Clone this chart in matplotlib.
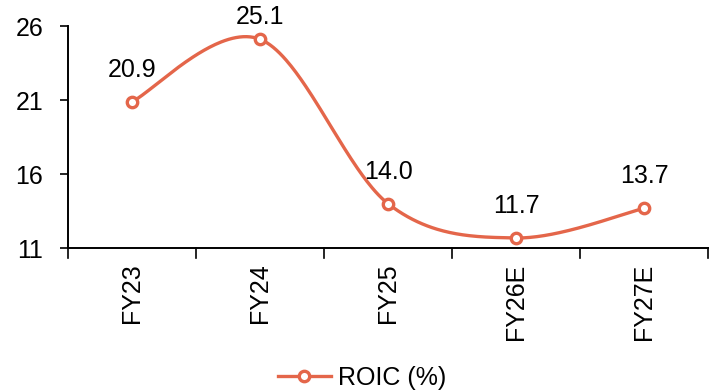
import numpy as np
import matplotlib
matplotlib.use("Agg")
import matplotlib.pyplot as plt
from matplotlib.lines import Line2D

categories = ["FY23", "FY24", "FY25", "FY26E", "FY27E"]
roic = [20.9, 25.1, 14.0, 11.7, 13.7]
yticks = [11, 16, 21, 26]

color = "#E4664A"
FS = 18
plt.rcParams["font.family"] = ["Liberation Sans", "DejaVu Sans"]

W, H = 7.24, 3.9
fig = plt.figure(figsize=(W, H), dpi=100)
axpos = [0.0943, 0.3633, 0.884, 0.570]
ax = fig.add_axes(axpos)

x = np.arange(len(categories))
ax.set_xlim(-0.5, len(categories) - 0.5)
ax.set_ylim(11, 26)

# Excel-like smoothed line (Catmull-Rom Bezier), computed in normalized space
aspect = (axpos[3] * H) / (axpos[2] * W)
xs = (x + 0.5) / len(categories)
ys = (np.array(roic) - 11) / 15 * aspect
pts = np.column_stack([xs, ys])
curve = []
n = len(pts)
for i in range(n - 1):
    p0 = pts[i - 1] if i > 0 else pts[i]
    p1 = pts[i]
    p2 = pts[i + 1]
    p3 = pts[i + 2] if i + 2 < n else pts[i + 1]
    c1 = p1 + (p2 - p0) / 6
    c2 = p2 - (p3 - p1) / 6
    t = np.linspace(0, 1, 80)[:, None]
    seg = (1 - t) ** 3 * p1 + 3 * (1 - t) ** 2 * t * c1 + 3 * (1 - t) * t ** 2 * c2 + t ** 3 * p2
    curve.append(seg if i == 0 else seg[1:])
curve = np.vstack(curve)
cx = curve[:, 0] * len(categories) - 0.5
cy = curve[:, 1] / aspect * 15 + 11

ax.plot(cx, cy, color=color, lw=2.4, solid_capstyle="round", zorder=2, clip_on=False)
ax.plot(x, roic, linestyle="none", marker="o", ms=7.5, mfc="white", mec=color, mew=2.4,
        zorder=3, clip_on=False)

# data labels above points, kept inside the figure
fig_h_px = H * 100
for xi, v in zip(x, roic):
    py = ax.transData.transform((xi, v))[1]
    off_px = min(32.0, (fig_h_px - 17.5) - py)
    ax.annotate(f"{v:.1f}", (xi, v), xytext=(0, off_px * 0.72), textcoords="offset points",
                ha="center", va="center", fontsize=FS)

ax.set_yticks(yticks)
ax.set_xticks(x)
ax.set_xticklabels(categories, rotation=90, fontsize=FS)
ax.tick_params(axis="x", length=0, pad=11)
ax.tick_params(axis="y", labelsize=FS, length=6, width=1.2, direction="out", pad=12)
for b in np.arange(-0.5, len(categories), 1.0):
    ax.plot([b, b], [0, -0.045], transform=ax.get_xaxis_transform(), color="black",
            lw=1.2, clip_on=False)

for s in ["top", "right"]:
    ax.spines[s].set_visible(False)
ax.spines["left"].set_linewidth(1.4)
ax.spines["bottom"].set_linewidth(1.4)

handle = Line2D([0], [0], color=color, lw=2.4, marker="o", ms=7.5, mfc="white", mec=color, mew=2.4)
fig.legend([handle], ["ROIC (%)"], loc="center", bbox_to_anchor=(0.5, 0.031),
           frameon=False, fontsize=FS, handlelength=2.1, handletextpad=0.28,
           borderpad=0, borderaxespad=0)

fig.savefig("out.png", dpi=100)
